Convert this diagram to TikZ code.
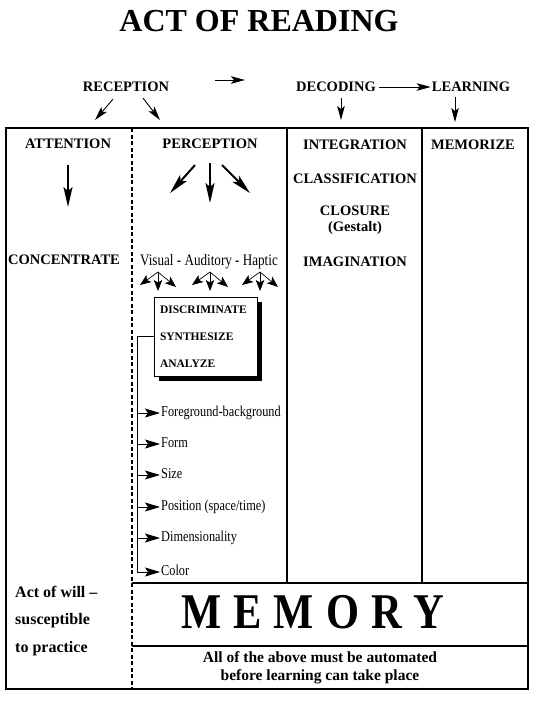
\documentclass[tikz,border=0pt]{standalone}
\usepackage{fontspec}
\setmainfont{Liberation Serif}
\newfontfamily\narrowfont[FakeStretch=0.82]{Liberation Serif}
\newfontfamily\memoryfont[FakeStretch=0.85]{Liberation Serif}
\usetikzlibrary{arrows.meta,shadows}

\begin{document}
\begin{tikzpicture}[x=1pt, y=-1pt,
		heading/.style={font=\bfseries\fontsize{14.5}{16}\selectfont, inner sep=0pt},
		boxline/.style={line width=1.2pt},
		thinarrow/.style={-{Stealth[length=14pt,width=7.5pt,inset=3pt]}, line width=0.9pt},
		bigarrow/.style={-{Stealth[length=20pt,width=9pt,inset=4pt]}, line width=2pt},
		fanarrow/.style={-{Stealth[length=11pt,width=8.5pt,inset=2.5pt]}, line width=0.7pt},
		itemarrow/.style={-{Stealth[length=15pt,width=9pt,inset=3pt]}, line width=0.8pt},
		listitem/.style={anchor=west, inner sep=1pt, text height=10pt, text depth=3pt, font=\narrowfont\fontsize{15}{15}\selectfont},
		dsabox/.style={draw, fill=white, line width=1pt, align=left, text width=91pt, inner xsep=6pt, minimum height=79pt, font=\bfseries\fontsize{11.5}{27}\selectfont, drop shadow={shadow xshift=5pt, shadow yshift=-5pt, fill=black, opacity=1}}]
			\useasboundingbox (0,0) rectangle (540,701);
			
			%frame
			\draw[boxline] (6,128) rectangle (528,689);
			\draw[boxline] (287,128) -- (287,583);
			\draw[boxline] (422,128) -- (422,583);
			\draw[boxline] (132,583) -- (528,583);
			\draw[boxline] (132,646) -- (528,646);
			\draw[boxline, dash pattern=on 4pt off 2.5pt] (132,128) -- (132,689);
			
			%title and top row
			\node[font=\bfseries\fontsize{32}{32}\selectfont] (title) at (259,21){ACT OF READING};
			\node[heading] (reception) at (126,87){RECEPTION};
			\node[heading] (decoding) at (336,87){DECODING};
			\node[heading] (learning) at (471,87){LEARNING};
			\coordinate (gapA) at (215,80);
			\coordinate (gapB) at (245,80);
			\draw[thinarrow] (gapA) -- (gapB);
			\draw[thinarrow, shorten <=3pt, shorten >=1pt] (decoding.east) -- (learning.west);
			\draw[thinarrow] (reception.south) ++(-13,7) -- ++(-18,21);
			\draw[thinarrow] (reception.south) ++(17,6) -- ++(17,22);
			\draw[thinarrow] (decoding.south) ++(5,6) -- ++(0,22);
			\draw[thinarrow] (learning.south) ++(-16,5) -- ++(0,25);
			
			%column heads
			\node[heading] (attention) at (68,144){ATTENTION};
			\node[heading] (perception) at (210,144){PERCEPTION};
			\node[heading] (integration) at (355,145){INTEGRATION};
			\node[heading] (memorize) at (473,145){MEMORIZE};
			\node[heading] (classification) at (355,179){CLASSIFICATION};
			\node[heading, align=center] (closure) at (355,220){CLOSURE\\(Gestalt)};
			\node[heading] (imagination) at (355,262){IMAGINATION};
			\node[heading] (concentrate) at (64,260){CONCENTRATE};
			
			\draw[bigarrow] (attention.south) ++(0,16) -- ++(0,42);
			\draw[bigarrow] (perception.south) ++(-15,16) -- ++(-25,28);
			\draw[bigarrow] (perception.south) ++(0,14) -- ++(0,40);
			\draw[bigarrow] (perception.south) ++(12,16) -- ++(28,28);
			
			%senses
			\node[font=\narrowfont\fontsize{16}{16}\selectfont, inner sep=0pt] (senses) at (209,262){Visual - Auditory - Haptic};
			\foreach \cx in {158, 210, 260}{
				\coordinate (fan\cx) at (\cx,272);
				\draw[fanarrow] (fan\cx) -- ++(-18,13);
				\draw[fanarrow] (fan\cx) -- ++(0,19);
				\draw[fanarrow] (fan\cx) -- ++(18,15);
			}
			
			\node[dsabox] (dsa) at (205.5,336.5){DISCRIMINATE\\SYNTHESIZE\\ANALYZE};
			
			%list of features
			\foreach \y/\t in {413/Foreground-background, 444/Form, 475/Size, 507/{Position (space/time)}, 538/Dimensionality, 572/Color}{
				\node[listitem] (item\y) at (160,\y){\t};
			}
			\coordinate (bar) at ([xshift=-16pt]dsa.west);
			\draw[itemarrow] (dsa.west) -- (bar) |- (item572.west);
			\foreach \y in {413, 444, 475, 507, 538}{
				\draw[itemarrow] (bar |- item\y.west) -- (item\y.west);
			}
			
			%bottom rows
			\node[font=\memoryfont\bfseries\fontsize{50}{50}\selectfont, inner sep=0pt] (memory) at (313,612){M\hspace{12pt}E\hspace{12pt}M\hspace{12pt}O\hspace{12pt}R\hspace{12pt}Y};
			\node[heading, align=center, font=\bfseries\fontsize{15.5}{18}\selectfont] (automated) at (320,668){All of the above must be automated\\before learning can take place};
			\node[heading, align=left, anchor=west, font=\bfseries\fontsize{16}{27.5}\selectfont] (will) at (15,621){Act of will --\\susceptible\\to practice};
		\end{tikzpicture}
\end{document}
